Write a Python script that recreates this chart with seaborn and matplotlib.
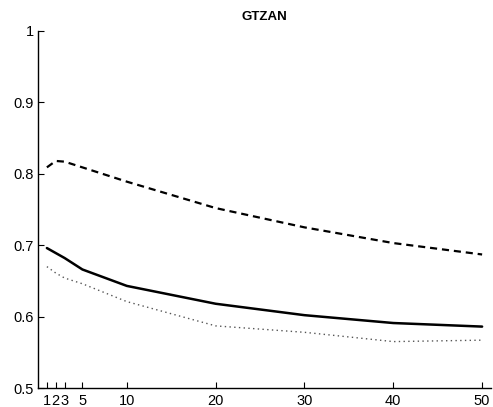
import matplotlib
matplotlib.use("Agg")
import matplotlib.pyplot as plt
import seaborn as sns
import pandas as pd

# Number of retrieved items (x) and precision scores for three systems
k_values = [1, 2, 3, 5, 10, 20, 30, 40, 50]
series_dashed = [0.809, 0.818, 0.817, 0.809, 0.789, 0.752, 0.725, 0.703, 0.687]
series_solid = [0.696, 0.689, 0.682, 0.666, 0.643, 0.618, 0.602, 0.591, 0.586]
series_dotted = [0.670, 0.661, 0.654, 0.646, 0.621, 0.587, 0.578, 0.565, 0.567]

x_ticks = [1, 2, 3, 5, 10, 20, 30, 40, 50]
x_tick_labels = ["1", "2", "3", "5", "10", "20", "30", "40", "50"]
y_ticks = [0.5, 0.6, 0.7, 0.8, 0.9, 1.0]
y_tick_labels = ["0.5", "0.6", "0.7", "0.8", "0.9", "1"]

sns.set_theme(style="white")
plt.rcParams["font.family"] = ["Liberation Sans", "DejaVu Sans"]

fig = plt.figure(figsize=(4.93, 4.07), dpi=100)
ax = fig.add_axes([38 / 493, 19 / 407, 453 / 493, 357 / 407])

df = pd.DataFrame({"k": k_values, "dashed": series_dashed,
                   "solid": series_solid, "dotted": series_dotted})

sns.lineplot(data=df, x="k", y="dashed", ax=ax, color="black",
             linewidth=1.6, linestyle=(0, (3.2, 2.2)))
sns.lineplot(data=df, x="k", y="solid", ax=ax, color="black",
             linewidth=1.8, linestyle="-")
sns.lineplot(data=df, x="k", y="dotted", ax=ax, color="#555555",
             linewidth=1.0, linestyle=(0, (1, 2.4)))

ax.set_xlim(0, 51)
ax.set_ylim(0.5, 1.0)
ax.set_xticks(x_ticks)
ax.set_xticklabels(x_tick_labels)
ax.set_yticks(y_ticks)
ax.set_yticklabels(y_tick_labels)
ax.set_xlabel("")
ax.set_ylabel("")

for side in ("top", "right"):
    ax.spines[side].set_visible(False)
for side in ("left", "bottom"):
    ax.spines[side].set_color("black")
    ax.spines[side].set_linewidth(1.0)

ax.tick_params(axis="both", which="major", bottom=True, left=True,
               direction="in", length=4, width=0.8,
               colors="black", labelsize=10.5, pad=3)
ax.tick_params(axis="x", pad=4)

ax.set_title("GTZAN", fontsize=9.5, fontweight="bold", color="black", pad=8)

fig.savefig("out.png", dpi=100)
